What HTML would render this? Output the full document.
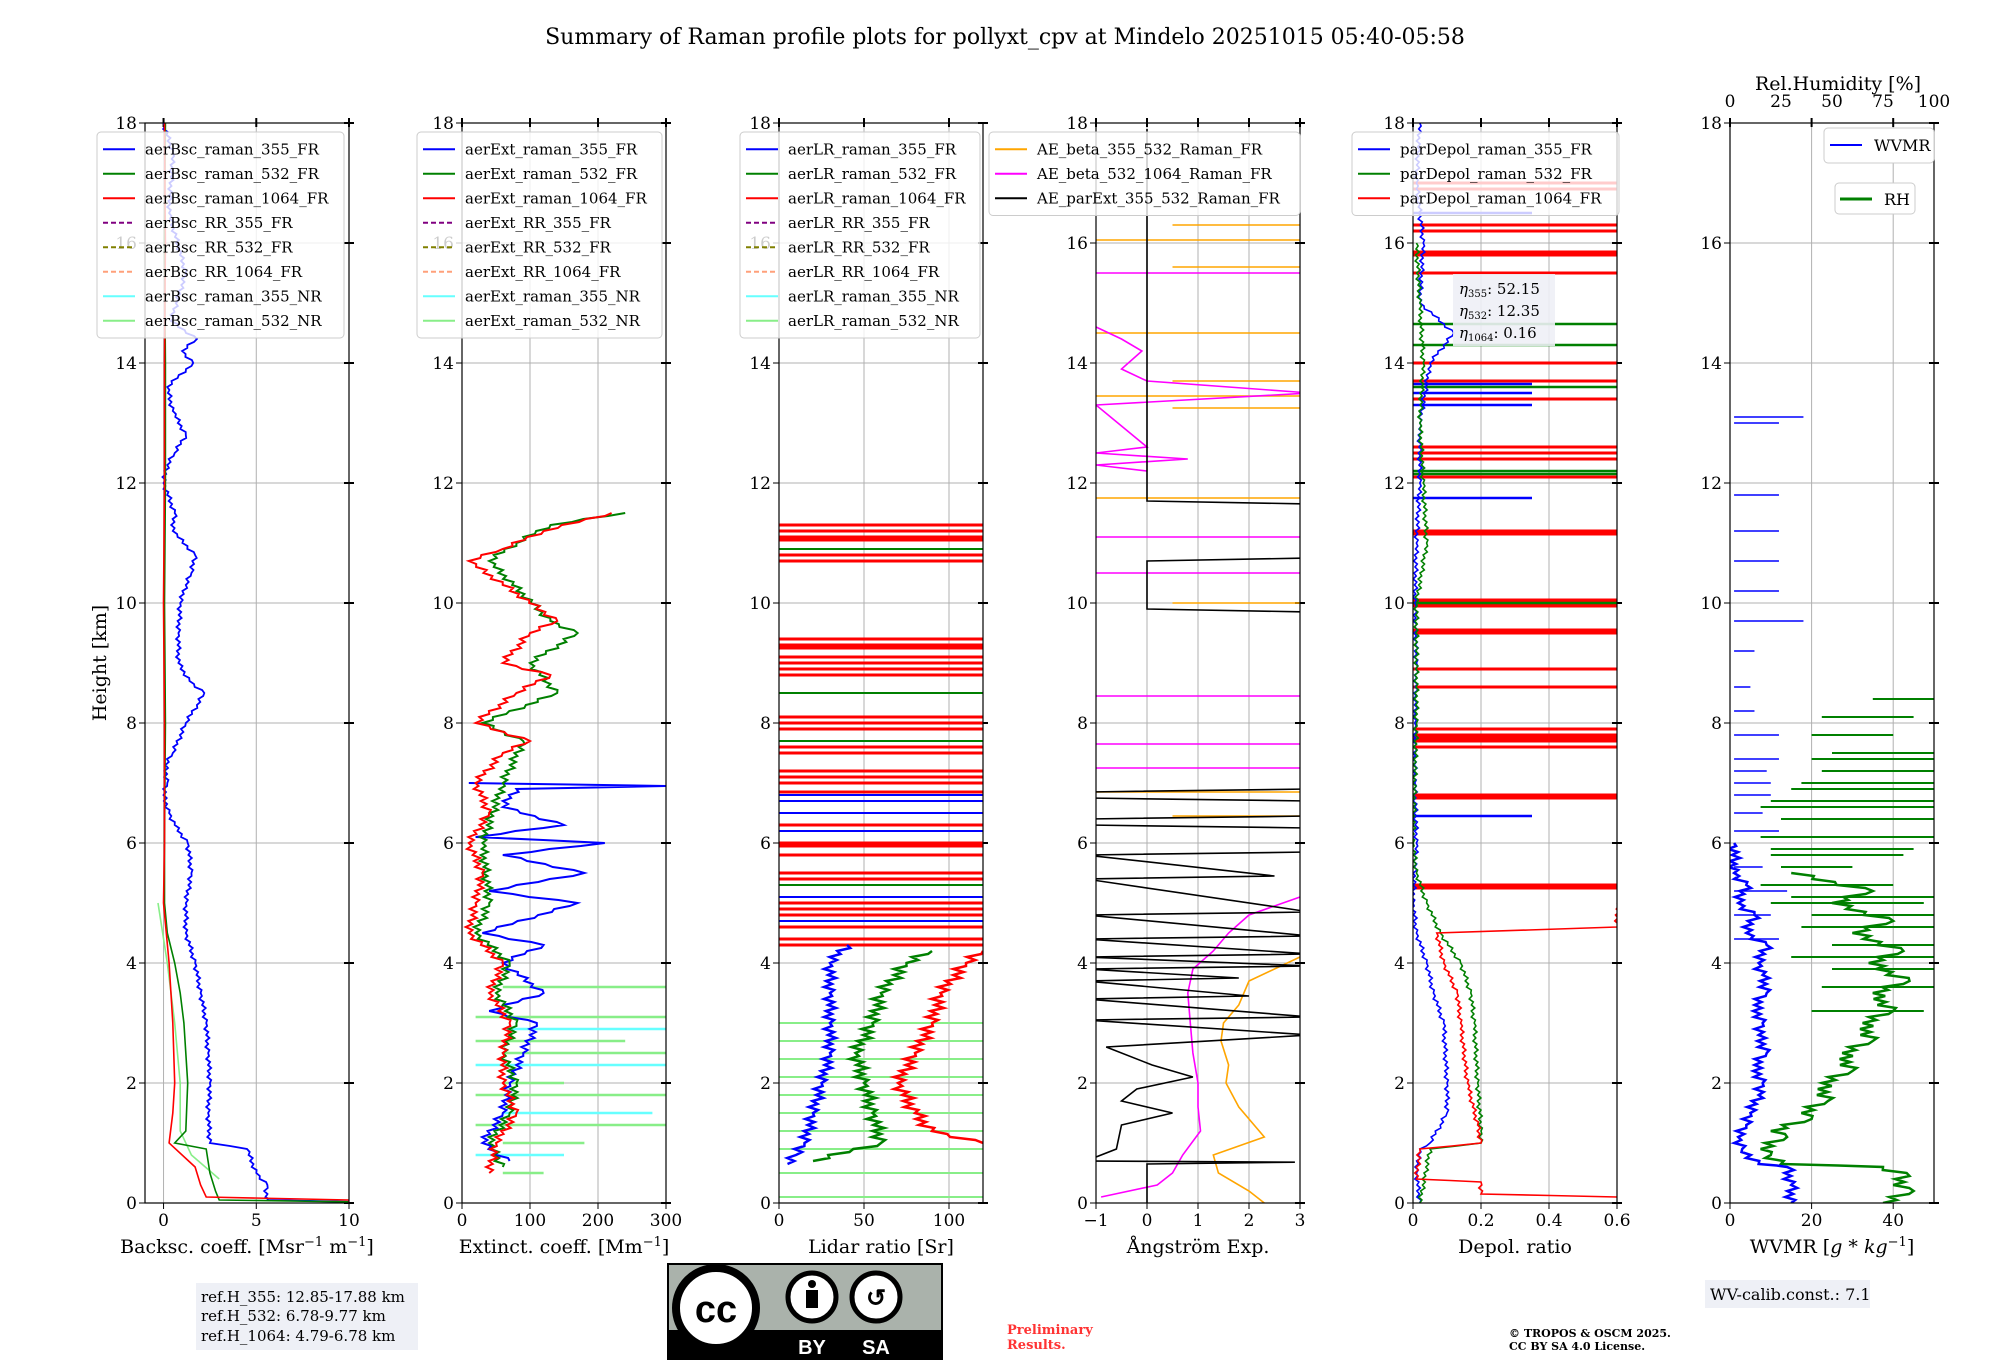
<!DOCTYPE html>
<html><head><meta charset="utf-8">
<style>
body{margin:0;background:#fff;}
svg{display:block;font-family:"DejaVu Serif","Liberation Serif",serif;}
</style></head>
<body>
<svg id="fig" width="2000" height="1360" viewBox="0 0 2000 1360" xmlns="http://www.w3.org/2000/svg">
<text x="1005" y="44" font-size="22" text-anchor="middle">Summary of Raman profile plots for pollyxt_cpv at Mindelo 20251015 05:40-05:58</text>
<text transform="translate(106,663) rotate(-90)" font-size="19" text-anchor="middle">Height [km]</text>
<g id="panels"></g>
<g>
<rect x="196" y="1283" width="222" height="67" fill="#eef0f6"/>
<text x="201" y="1302" font-size="15">ref.H_355: 12.85-17.88 km</text>
<text x="201" y="1321" font-size="15">ref.H_532: 6.78-9.77 km</text>
<text x="201" y="1341" font-size="15">ref.H_1064: 4.79-6.78 km</text>
</g>
<g>
<rect x="668" y="1264" width="274" height="96" fill="#aab2ab" stroke="#000" stroke-width="2"/>
<rect x="668" y="1330" width="274" height="30" fill="#000"/>
<circle cx="716" cy="1308" r="40" fill="#fff" stroke="#000" stroke-width="8"/>
<text x="716" y="1322" font-size="38" font-weight="bold" text-anchor="middle" font-family="Liberation Sans,sans-serif">cc</text>
<circle cx="812" cy="1297" r="24" fill="#fff" stroke="#000" stroke-width="5"/>
<circle cx="812" cy="1284" r="4" fill="#000"/><rect x="806" y="1290" width="12" height="18" fill="#000"/>
<circle cx="876" cy="1297" r="24" fill="#fff" stroke="#000" stroke-width="5"/>
<text x="876" y="1306" font-size="24" font-weight="bold" text-anchor="middle" font-family="Liberation Sans,sans-serif">↺</text>
<text x="812" y="1354" font-size="20" font-weight="bold" fill="#fff" text-anchor="middle" font-family="Liberation Sans,sans-serif">BY</text>
<text x="876" y="1354" font-size="20" font-weight="bold" fill="#fff" text-anchor="middle" font-family="Liberation Sans,sans-serif">SA</text>
</g>
<text x="1007" y="1334" font-size="13" font-weight="bold" fill="#ff3333">Preliminary</text>
<text x="1007" y="1349" font-size="13" font-weight="bold" fill="#ff3333">Results.</text>
<text x="1509" y="1337" font-size="11" font-weight="bold">© TROPOS &amp; OSCM 2025.</text>
<text x="1509" y="1350" font-size="11" font-weight="bold">CC BY SA 4.0 License.</text>
<g>
<rect x="1705" y="1280" width="165" height="28" fill="#eef0f6"/>
<text x="1710" y="1300" font-size="16">WV-calib.const.: 7.1</text>
</g>
</svg>
<script>
// ---------- data (height km / values) ----------
const bscH355=[0.02,0.05,0.1,0.3,0.5,0.9,1.0,1.5,2,2.5,3,3.5,4,4.5,5,5.5,6,6.3,6.5,6.8,7,7.3,7.5,8,8.3,8.5,8.7,9,9.5,10,10.3,10.5,10.8,11.2,11.5,12,12.3,12.5,12.8,13.2,13.6,14,14.2,14.4,14.7,15.5,16.5,17.5,18];
const bscV355=[10,5.6,5.5,5.6,5.0,4.5,2.5,2.4,2.5,2.4,2.3,2.0,1.7,1.2,1.2,1.5,1.3,0.6,0.3,0.0,0.2,0.1,0.5,1.2,1.8,2.2,1.4,0.8,0.8,0.9,1.2,1.5,1.7,0.5,0.6,0.0,0.2,0.6,1.2,0.5,0.2,1.6,1.0,1.8,0.4,1.2,0.3,0.5,0];
const bscH532=[0.02,0.05,0.2,0.5,0.9,1.0,1.2,2,3,3.5,4,4.5,5,6,8,10,12,14,16,18];
const bscV532=[10,3.0,2.8,2.5,2.3,0.6,1.2,1.3,1.1,0.9,0.6,0.2,0.05,0.05,0.1,0.05,0.1,0.1,0.05,0.1];
const bscH1064=[0.01,0.05,0.1,0.3,0.6,1.0,1.5,2,3,4,5,6,8,10,12,14,16,18];
const bscV1064=[10,10,2.3,2.0,1.7,0.3,0.5,0.6,0.5,0.3,0,0.05,0.05,0,0.05,0.05,0.1,0.05];
const bscHNR=[0.4,0.8,1.2,2,3,4,5];
const bscVNR=[3.0,1.5,0.9,0.9,0.6,0.2,-0.3];

const extH355=[0.7,1.0,1.5,2,2.5,3,3.2,3.5,4,4.3,4.5,5,5.2,5.5,5.8,6.0,6.1,6.3,6.6,6.9,6.95,7.0];
const extV355=[70,30,60,70,90,110,40,120,60,120,30,170,40,180,60,210,20,150,60,80,300,10];
const extH532=[0.6,1.0,1.5,2,2.5,3,3.5,4,4.5,5,6,7,7.7,8,8.5,9,9.5,9.7,10.7,11.0,11.3,11.5];
const extV532=[60,40,70,80,60,80,50,70,20,40,30,60,90,30,140,100,170,130,40,80,130,240];
const extH1064=[0.5,1.0,1.5,2,2.5,3,3.5,4,4.5,5,5.5,6,6.5,7,7.5,7.7,8,8.5,8.8,9,9.5,9.7,10.7,10.9,11.2,11.5];
const extV1064=[40,50,80,60,60,70,40,60,10,20,30,10,40,20,60,100,20,80,130,60,100,140,10,60,120,220];
const extHlinesNR=[0.5,0.8,1.0,1.3,1.5,1.8,2.0,2.3,2.5,2.7,2.9,3.1,3.6];
const extXlinesNR=[120,150,180,300,280,300,150,300,300,240,300,300,300];

const lrH355=[0.65,0.8,1.0,1.5,2,2.5,3,3.5,4,4.3];
const lrV355=[5,10,15,20,25,30,30,30,30,40];
const lrH532=[0.7,1.0,1.5,2,2.5,3,3.5,4,4.2];
const lrV532=[20,60,55,50,45,55,60,75,90];
const lrH1064=[1.0,1.2,1.5,2,2.5,3,3.5,4,4.2];
const lrV1064=[120,90,80,70,80,90,95,110,120];
const lrRedLines=[11.3,11.2,11.1,11.05,10.8,10.7,9.4,9.3,9.25,9.1,9.0,8.9,8.8,8.1,8.0,7.9,7.6,7.5,7.2,7.1,7.0,6.85,6.3,6.0,5.95,5.8,5.5,5.4,5.0,4.9,4.8,4.6,4.4,4.3];
const lrBlueLines=[6.8,6.7,6.5,6.2,5.1,4.7];
const lrGreenLines=[10.9,8.5,7.7,5.3];
const lrNRLines=[0.1,0.5,0.9,1.2,1.5,1.8,2.1,2.4,2.7,3.0];

const aeBlackH=[17.9,11.7,11.65,10.75,10.7,9.9,9.85,6.9,6.85,6.75,6.7,6.45,6.4,6.3,6.25,5.85,5.8,5.45,5.4,4.85,4.8,4.45,4.4,4.15,4.1,3.95,3.9,3.75,3.7,3.45,3.4,3.1,3.05,2.8,2.6,2.3,2.1,1.9,1.7,1.5,1.3,0.9,0.7,0.68,0.65,0.6,0.3,0];
const aeBlackV=[0,0,3.2,3.2,0,0,3.2,3.2,-1.2,-1.2,3.2,3.2,-1.2,-1.2,3.2,3.2,-1.2,2.5,-1.2,3.2,-1.2,3.2,-1.2,3.2,-1.2,3.2,-1.2,1.8,-1.2,2.0,-1.2,3.2,-1.2,3.2,-0.8,0.1,0.9,-0.2,-0.5,0.5,-0.5,-0.6,-1.2,2.9,0,0,0,0];
const aeMagH=[0.1,0.3,0.5,0.8,1.2,1.6,2,2.5,3,3.5,3.9,4.2,4.5,4.8,5.1];
const aeMagV=[-0.9,0.2,0.5,0.7,1.05,1.0,1.0,0.9,0.85,0.8,0.9,1.3,1.6,2.0,3.0];
const aeMagUpH=[14.6,14.4,14.2,13.9,13.7,13.5,13.3,12.6,12.5,12.4,12.3,12.2];
const aeMagUpV=[-1,-0.5,-0.1,-0.5,0,3.2,-1,0,-1,0.8,-1,0];
const aeMagLines=[15.5,11.1,10.5,8.45,7.65,7.25];
const aeOrgH=[0,0.2,0.5,0.8,1.1,1.6,2,2.3,2.7,3,3.3,3.7,4.1];
const aeOrgV=[2.3,2.0,1.4,1.3,2.3,1.8,1.55,1.6,1.45,1.5,1.8,2.0,3.0];
const aeOrgLines=[16.3,16.05,15.6,14.5,13.7,13.45,13.25,11.75,10.0,6.85,6.45];

const dpH355=[0,0.5,0.9,1.0,1.3,1.5,2,3,3.5,4,4.5,5,6,7,8,9,10,11,12,13,14,14.5,15,16,17,18];
const dpV355=[0.02,0.01,0.02,0.05,0.08,0.1,0.1,0.09,0.06,0.04,0.01,0,0.01,0.005,0.005,0.01,0.005,0.01,0.02,0.02,0.05,0.12,0.02,0.03,0.01,0.02];
const dpH532=[0,0.9,1.0,1.2,2,3,3.5,4,4.5,5,5.5,6,8,10,11,12,13,14,15,16];
const dpV532=[0.02,0.05,0.2,0.2,0.19,0.18,0.17,0.14,0.08,0.04,0.01,0,0.01,0.01,0.04,0.03,0.02,0.03,0.02,0.01];
const dpH1064=[0,0.1,0.15,0.35,0.4,0.9,1.0,1.3,2,3,3.5,4,4.5,4.6,5];
const dpV1064=[0.6,0.6,0.2,0.2,0.01,0.02,0.2,0.19,0.16,0.14,0.13,0.09,0.07,0.6,0.6];
const dpRedLines=[5.3,5.25,6.8,6.75,7.6,7.7,7.75,7.8,7.9,8.6,8.9,9.5,9.55,9.95,10.0,10.05,11.15,11.2,12.1,12.4,12.5,12.6,13.4,13.7,14.0,15.5,15.8,15.85,16.2,16.3,16.9,17.0];
const dpBlueLines=[6.45,13.65,13.5,11.75,13.3,16.5];
const dpGreenLines=[14.65,12.2,12.15,13.6,10.0,14.3];

const wvH=[0,0.3,0.6,0.65,0.9,1.1,1.3,1.5,1.8,2,2.3,2.5,2.8,3,3.3,3.5,3.8,4,4.3,4.5,4.8,5,5.3,5.5,6];
const wvV=[15,15,14,7,3,2,4,5,7,8,6,9,7,8,6,9,8,7,9,4,6,2,4,1,1];
const wvLinesH=[6.2,6.5,7.0,7.2,7.4,7.8,8.2,8.6,9.2,9.7,10.2,10.7,11.2,11.8,13.0,13.1,14.1,17.6,4.4,4.8,5.2,5.6,6.8];
const wvLinesV=[12,8,10,9,12,12,6,5,6,18,12,12,12,12,12,18,1,1,12,10,14,8,10];
const rhH=[0,0.2,0.3,0.45,0.6,0.65,0.8,0.9,1.1,1.2,1.4,1.5,1.7,2,2.2,2.5,2.7,3,3.2,3.5,3.7,4,4.2,4.5,4.7,5,5.2,5.5];
const rhV=[75,90,80,88,75,25,20,15,28,20,40,35,48,45,60,55,70,65,80,70,88,68,85,60,80,50,70,30];
const rhLinesH=[3.2,3.6,3.9,4.1,4.3,4.6,4.8,5.0,5.1,5.3,5.6,5.9,6.1,6.4,6.7,7.0,7.2,7.5,7.8,8.1,8.4,6.6,5.8,6.9,7.4];
const rhLinesV=[95,100,100,100,100,100,100,95,100,80,60,90,100,100,100,100,100,100,80,90,100,100,85,100,100];
const rhLinesS=[40,45,50,30,50,35,40,20,30,15,25,20,15,25,20,35,45,50,40,45,70,15,20,30,40];

// ---------- layout ----------
const NS='http://www.w3.org/2000/svg';
const root=document.getElementById('panels');
const TOP=123,BOT=1203,W=204;
function mk(tag,attrs,parent){const e=document.createElementNS(NS,tag);for(const k in attrs)e.setAttribute(k,attrs[k]);(parent||root).appendChild(e);return e;}
function yS(h){return BOT-(h/18)*(BOT-TOP);}
const panels=[];
function makePanel(i,x0,x1,ticks,xlabel,name){
  const L=145+317*i;const xS=v=>L+(v-x0)/(x1-x0)*W;
  const g=mk('g',{});
  
  
  const cp=mk('clipPath',{id:'cp'+i},g);mk('rect',{x:L,y:TOP,width:W,height:BOT-TOP},cp);
  for(let h=0;h<=18;h+=2){if(h>0&&h<18)mk('line',{x1:L,x2:L+W,y1:yS(h),y2:yS(h),stroke:'#b0b0b0','stroke-width':1},g);
    mk('line',{x1:L-6,x2:L,y1:yS(h),y2:yS(h),stroke:'#000'},g);
    mk('line',{x1:L+W-5,x2:L+W+5,y1:yS(h),y2:yS(h),stroke:'#000','stroke-width':2},g);
    const t=mk('text',{x:L-8,y:yS(h)+6,'font-size':17,'text-anchor':'end'},g);t.textContent=h;
    
    }
  ticks.forEach(v=>{const x=xS(v);
    if(x>L+1&&x<L+W-1)mk('line',{x1:x,x2:x,y1:TOP,y2:BOT,stroke:'#b0b0b0'},g);
    mk('line',{x1:x,x2:x,y1:BOT,y2:BOT+6,stroke:'#000'},g);
    mk('line',{x1:x,x2:x,y1:TOP-5,y2:TOP+4,stroke:'#000','stroke-width':2},g);
    const t=mk('text',{x:x,y:BOT+23,'font-size':17,'text-anchor':'middle'},g);t.textContent=(v<0?'−'+(-v):v);
    
    });
  const d=mk('g',{'clip-path':'url(#cp'+i+')'},g);
  mk('rect',{x:L,y:TOP,width:W,height:BOT-TOP,fill:'none',stroke:'#000','stroke-width':1.2},g);
  const xl=mk('text',{x:L+W/2,y:BOT+50,'font-size':19,'text-anchor':'middle'},g);xl.innerHTML=xlabel;
  
  
  const p={g,d,xS,L};panels.push(p);return p;}
// draws a line through the data points; optional jitter pattern adds the raw-signal texture
function line(p,hs,vs,color,w,wig){let pts=[];
  for(let k=0;k<hs.length;k++){pts.push([p.xS(vs[k]),yS(hs[k])]);
    if(wig&&k<hs.length-1){const n=Math.max(2,Math.round((yS(hs[k])-yS(hs[k+1]))/3));
      for(let j=1;j<n;j++){const f=j/n;const x=p.xS(vs[k]+(vs[k+1]-vs[k])*f)+(j%2?wig:-wig)*((j%3)+1)/2;pts.push([x,yS(hs[k]+(hs[k+1]-hs[k])*f)]);}}}
  const e=mk('polyline',{points:pts.map(q=>q[0].toFixed(1)+','+q[1].toFixed(1)).join(' '),fill:'none',stroke:color,'stroke-width':w||1.6},p.d);
  
  return e;}
function hl(p,h,v0,v1,color,w){const e=mk('line',{x1:p.xS(v0),x2:p.xS(v1),y1:yS(h),y2:yS(h),stroke:color,'stroke-width':w||1.6},p.d);
  
  }
function legend(p,x,y,w,entries,lh){const g=mk('g',{},p.g);
  
  
  mk('rect',{x:x,y:y,width:w,height:entries.length*lh+10,rx:4,fill:'rgba(255,255,255,0.8)',stroke:'#ccc'},g);
  entries.forEach((e,k)=>{const yy=y+5+lh*k+lh/2;
    mk('line',{x1:x+6,x2:x+38,y1:yy,y2:yy,stroke:e[1],'stroke-width':2,'stroke-dasharray':e[2]?'5,3':'none'},g);
    const t=mk('text',{x:x+48,y:yy+5,'font-size':15},g);t.textContent=e[0];
    
    });}

// panel 1
let p=makePanel(0,-1,10,[0,5,10],'Backsc. coeff. [Msr<tspan dy="-7" font-size="13">−1</tspan><tspan dy="7"> m</tspan><tspan dy="-7" font-size="13">−1</tspan><tspan dy="7">]</tspan>','backscatter-panel');
line(p,bscHNR,bscVNR,'#88ee88');line(p,bscH355,bscV355,'#0000ff',1.8,1.5);line(p,bscH532,bscV532,'#008000');line(p,bscH1064,bscV1064,'#ff0000');
const names=['raman_355_FR','raman_532_FR','raman_1064_FR','RR_355_FR','RR_532_FR','RR_1064_FR','raman_355_NR','raman_532_NR'];
const cols=[['#0000ff'],['#008000'],['#ff0000'],['#800080',1],['#808000',1],['#ffa07a',1],['#66ffff'],['#88ee88']];
legend(p,97,132,247,names.map((n,k)=>['aerBsc_'+n,cols[k][0],cols[k][1]]),24.5);
// panel 2
p=makePanel(1,0,300,[0,100,200,300],'Extinct. coeff. [Mm<tspan dy="-7" font-size="13">−1</tspan><tspan dy="7">]</tspan>','extinction-panel');
extHlinesNR.forEach((h,k)=>hl(p,h,k%2?20:60,extXlinesNR[k],k%3==1?'#66ffff':'#88ee88',2.5));
line(p,extH355,extV355,'#0000ff',2,3);line(p,extH532,extV532,'#008000',2,3);line(p,extH1064,extV1064,'#ff0000',2,3);
legend(p,417,132,245,names.map((n,k)=>['aerExt_'+n,cols[k][0],cols[k][1]]),24.5);
// panel 3
p=makePanel(2,0,120,[0,50,100],'Lidar ratio [Sr]','lidar-ratio-panel');
lrNRLines.forEach((h,k)=>hl(p,h,0,120,'#88ee88',2));
lrRedLines.forEach(h=>hl(p,h,0,120,'#ff0000',3));
lrBlueLines.forEach(h=>hl(p,h,0,120,'#0000ff',2));
lrGreenLines.forEach(h=>hl(p,h,0,120,'#008000',2));
line(p,lrH355,lrV355,'#0000ff',2.5,4);line(p,lrH532,lrV532,'#008000',2.5,5);line(p,lrH1064,lrV1064,'#ff0000',2.5,5);
legend(p,740,132,240,names.map((n,k)=>['aerLR_'+n,cols[k][0],cols[k][1]]),24.5);
// panel 4
p=makePanel(3,-1,3,[-1,0,1,2,3],'Ångström Exp.','angstrom-panel');
aeOrgLines.forEach((h,k)=>hl(p,h,k%2?-1:0.5,3.2,'#ffa500',1.5));
aeMagLines.forEach((h,k)=>hl(p,h,-1,3.2,'#ff00ff',1.5));
line(p,aeOrgH,aeOrgV,'#ffa500');line(p,aeMagH,aeMagV,'#ff00ff');line(p,aeMagUpH,aeMagUpV,'#ff00ff');line(p,aeBlackH,aeBlackV,'#000');
legend(p,989,132,311,[['AE_beta_355_532_Raman_FR','#ffa500'],['AE_beta_532_1064_Raman_FR','#ff00ff'],['AE_parExt_355_532_Raman_FR','#000']],24.5);
// panel 5
p=makePanel(4,0,0.6,[0,0.2,0.4,0.6],'Depol. ratio','depol-panel');
dpRedLines.forEach(h=>hl(p,h,0,0.6,'#ff0000',3));
dpBlueLines.forEach(h=>hl(p,h,0,0.35,'#0000ff',2.5));
dpGreenLines.forEach(h=>hl(p,h,0,0.6,'#008000',2.5));
line(p,dpH355,dpV355,'#0000ff',1.6,1.5);line(p,dpH532,dpV532,'#008000',1.6,1.5);line(p,dpH1064,dpV1064,'#ff0000',1.6,1.5);
legend(p,1352,132,267,[['parDepol_raman_355_FR','#0000ff'],['parDepol_raman_532_FR','#008000'],['parDepol_raman_1064_FR','#ff0000']],24.5);
{const g=mk('g',{},p.g);


mk('rect',{x:1453,y:274,width:102,height:72,fill:'rgba(238,240,246,0.9)'},g);
[['355','52.15'],['532','12.35'],['1064','0.16']].forEach((e,k)=>{const t=mk('text',{x:1459,y:294+k*22,'font-size':15},g);
t.innerHTML='<tspan font-style="italic">η</tspan><tspan font-size="10" dy="3">'+e[0]+'</tspan><tspan dy="-3">: '+e[1]+'</tspan>';});}
// panel 6
p=makePanel(5,0,50,[0,20,40],'WVMR [<tspan font-style="italic">g</tspan> * <tspan font-style="italic">kg</tspan><tspan dy="-7" font-size="13">−1</tspan><tspan dy="7">]</tspan>','wvmr-panel');
rhLinesH.forEach((h,k)=>hl(p,h,rhLinesS[k]/2,rhLinesV[k]/2,'#008000',2));
wvLinesH.forEach((h,k)=>hl(p,h,1,wvLinesV[k],'#0000ff',1.5));
line(p,rhH,rhV.map(v=>v/2),'#008000',2.5,6);line(p,wvH,wvV,'#0000ff',2.5,4);
[0,25,50,75,100].forEach(v=>{const x=p.xS(v/2);const t=mk('text',{x:x,y:107,'font-size':17,'text-anchor':'middle'},p.g);t.textContent=v;

});
{const t=mk('text',{x:1838,y:90,'font-size':19,'text-anchor':'middle'},p.g);t.textContent='Rel.Humidity [%]';

}
{const g=mk('g',{},p.g);


mk('rect',{x:1824,y:128,width:110,height:35,rx:4,fill:'#fff',stroke:'#ccc'},g);
mk('line',{x1:1830,x2:1862,y1:145,y2:145,stroke:'#0000ff','stroke-width':2},g);
const t=mk('text',{x:1874,y:151,'font-size':16},g);t.textContent='WVMR';
mk('rect',{x:1835,y:183,width:80,height:31,rx:4,fill:'#fff',stroke:'#ccc'},g);
mk('line',{x1:1840,x2:1872,y1:199,y2:199,stroke:'#008000','stroke-width':3},g);
const t2=mk('text',{x:1884,y:205,'font-size':16},g);t2.textContent='RH';}
</script>
</body></html>
